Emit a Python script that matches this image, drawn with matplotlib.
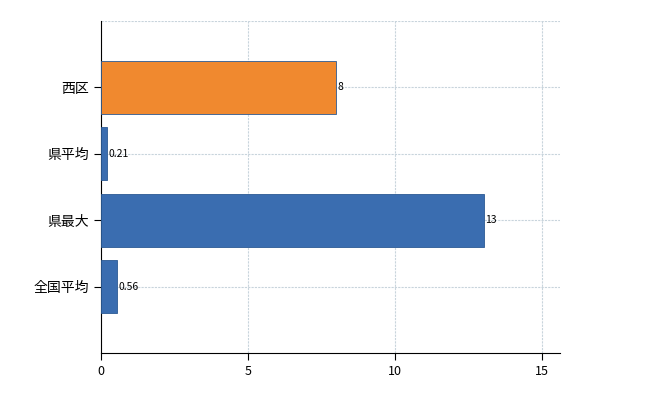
import matplotlib
matplotlib.use("Agg")
import matplotlib.pyplot as plt

plt.rcParams['font.family'] = ['Noto Sans CJK JP', 'DejaVu Sans']

categories = ["全国平均", "県最大", "県平均", "西区"]
values = [0.56, 13, 0.21, 8]
labels = ["0.56", "13", "0.21", "8"]
colors = ["#3a6db0", "#3a6db0", "#3a6db0", "#f0892f"]
xticks = [0, 5, 10, 15]

fig = plt.figure(figsize=(6.5, 4.0), dpi=100)
ax = fig.add_axes([101/650, 47/400, 459/650, 332/400])
pos = list(range(len(categories)))
ax.barh(pos, values, height=0.8, color=colors, edgecolor="#2b5a94", linewidth=0.6, zorder=3)
for p, v, l in zip(pos, values, labels):
    ax.text(v + 0.05, p, l, va="center", ha="left", fontsize=7.5, zorder=4)
ax.set_ylim(-1, 4)
ax.set_xlim(0, 15.6)
ax.set_yticks(pos)
ax.set_yticklabels(categories, fontsize=10)
ax.set_xticks(xticks)
ax.set_xticklabels([str(t) for t in xticks], fontsize=9)
ax.grid(True, color="#c8d4dc", linestyle=(0, (2, 1)), linewidth=0.8, zorder=0)
ax.axhline(4, color="#c8d4dc", linestyle=(0, (2, 1)), linewidth=0.8, zorder=0)
ax.spines['top'].set_visible(False)
ax.spines['right'].set_visible(False)
ax.tick_params(length=5, width=0.8)
fig.savefig("out.png", dpi=100)
